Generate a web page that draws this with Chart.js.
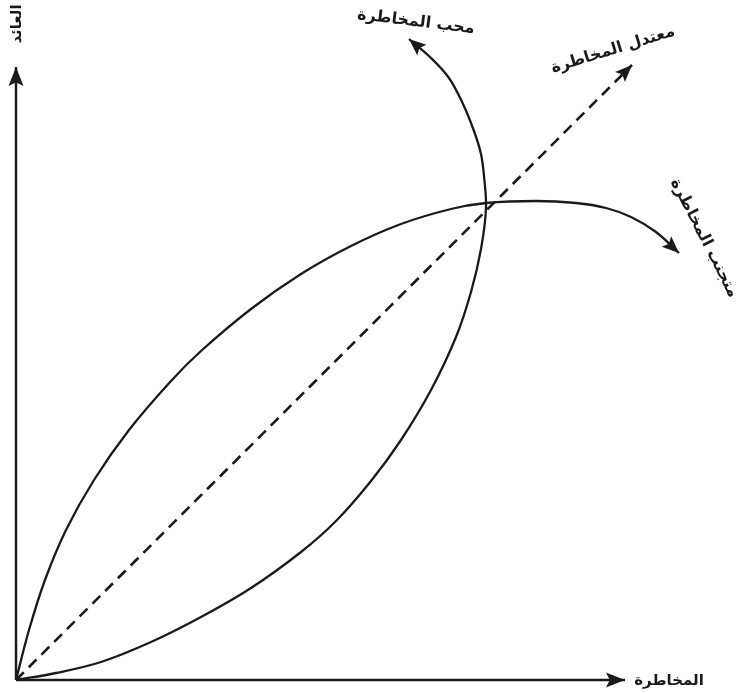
<!DOCTYPE html>
<html lang="ar">
<head>
<meta charset="utf-8">
<title>العائد والمخاطرة</title>
<script src="https://cdn.jsdelivr.net/npm/chart.js@4/dist/chart.umd.min.js"></script>
<style>
    html, body { margin: 0; padding: 0; background: #fff; }
    .chart-box { width: 738px; height: 693px; position: relative; }
</style>
</head>
<body>
<div class="chart-box"><canvas id="risk-chart"></canvas></div>
<script>
// axis extent (risk on x, return on y)
const AXIS_X = [{ x: 0, y: 0 }, { x: 609, y: 0 }];
const AXIS_Y = [{ x: 0, y: 0 }, { x: 0, y: 613 }];

// risk neutral: straight line
const neutralRisk = [0, 616];
const neutralReturn = [0, 615];

// risk averse: concave curve bending down at the end
const averseRisk   = [0, 13, 29, 50, 78, 113, 155, 185, 235, 285, 335, 385, 435, 470, 520, 560, 590, 615, 640, 663];
const averseReturn = [0, 50, 100, 150, 200, 250, 299, 329, 371, 406, 434, 456, 471, 477, 479, 477, 472, 463, 448, 427];

// risk seeker: convex curve turning back up-left
const seekerRisk   = [0, 40, 85, 135, 185, 235, 285, 320, 355, 385, 415, 440, 455, 465, 470, 468, 465, 458, 447, 433, 415, 393];
const seekerReturn = [0, 7, 18, 38, 63, 92, 128, 159, 199, 240, 290, 343, 388, 431, 472, 504, 526, 549, 576, 602, 622, 641];

const LABELS = [
    { text: 'العائد', x: 1, y: 656, rot: -90, size: 15 },
    { text: 'المخاطرة', x: 653, y: -1, rot: 0, size: 15 },
    { text: 'محب المخاطرة', x: 400, y: 658, rot: 7, size: 16 },
    { text: 'معتدل المخاطرة', x: 597, y: 630, rot: -17, size: 16 },
    { text: 'متجنب المخاطرة', x: 688, y: 442, rot: 63, size: 16 }
];

const INK = '#1a1a1a';
const FONT = "'DejaVu Sans', sans-serif";

const toPoints = (xs, ys) => xs.map((x, i) => ({ x, y: ys[i] }));

const line = (data, extra) => Object.assign({
    data,
    showLine: true,
    pointRadius: 0,
    borderColor: INK,
    borderWidth: 2.3,
    fill: false,
    clip: false,
    arrow: true
}, extra);

// arrowheads at the last point of every dataset flagged with arrow
const arrowPlugin = {
    id: 'arrows',
    afterDatasetsDraw(chart) {
        const ctx = chart.ctx;
        chart.data.datasets.forEach((ds, i) => {
            if (!ds.arrow) return;
            const pts = chart.getDatasetMeta(i).data;
            const a = pts[pts.length - 2];
            const b = pts[pts.length - 1];
            const ang = Math.atan2(b.y - a.y, b.x - a.x);
            const len = ds.arrowLen || 17, half = ds.arrowHalf || 7;
            ctx.save();
            ctx.translate(b.x, b.y);
            ctx.rotate(ang);
            ctx.beginPath();
            ctx.moveTo(0, 0);
            ctx.lineTo(-len, -half);
            ctx.lineTo(-len * 0.8, 0);
            ctx.lineTo(-len, half);
            ctx.closePath();
            ctx.fillStyle = INK;
            ctx.fill();
            ctx.restore();
        });
    }
};

const labelPlugin = {
    id: 'labels',
    afterDraw(chart) {
        const ctx = chart.ctx;
        const sx = chart.scales.x, sy = chart.scales.y;
        LABELS.forEach(l => {
            ctx.save();
            ctx.translate(sx.getPixelForValue(l.x), sy.getPixelForValue(l.y));
            ctx.rotate(l.rot * Math.PI / 180);
            ctx.direction = 'rtl';
            ctx.textAlign = 'center';
            ctx.textBaseline = 'middle';
            ctx.fillStyle = INK;
            ctx.font = `bold ${l.size}px ${FONT}`;
            ctx.fillText(l.text, 0, 0);
            ctx.restore();
        });
    }
};

new Chart(document.getElementById('risk-chart'), {
    type: 'scatter',
    data: {
        datasets: [
            line(AXIS_Y, { borderWidth: 2.5, arrowHalf: 7.5, arrowLen: 19 }),
            line(AXIS_X, { borderWidth: 2.5, arrowHalf: 7.5, arrowLen: 19 }),
            line(toPoints(neutralRisk, neutralReturn), { borderWidth: 2.6, borderDash: [11, 7] }),
            line(toPoints(averseRisk, averseReturn), { tension: 0.35 }),
            line(toPoints(seekerRisk, seekerReturn), { tension: 0.35 })
        ]
    },
    options: {
        responsive: true,
        maintainAspectRatio: false,
        animation: false,
        layout: { padding: { left: 16, right: 0, top: 0, bottom: 13 } },
        scales: {
            x: { type: 'linear', min: 0, max: 722, display: false },
            y: { type: 'linear', min: 0, max: 680, display: false }
        },
        plugins: {
            legend: { display: false },
            tooltip: { enabled: false }
        }
    },
    plugins: [arrowPlugin, labelPlugin]
});
</script>
</body>
</html>
